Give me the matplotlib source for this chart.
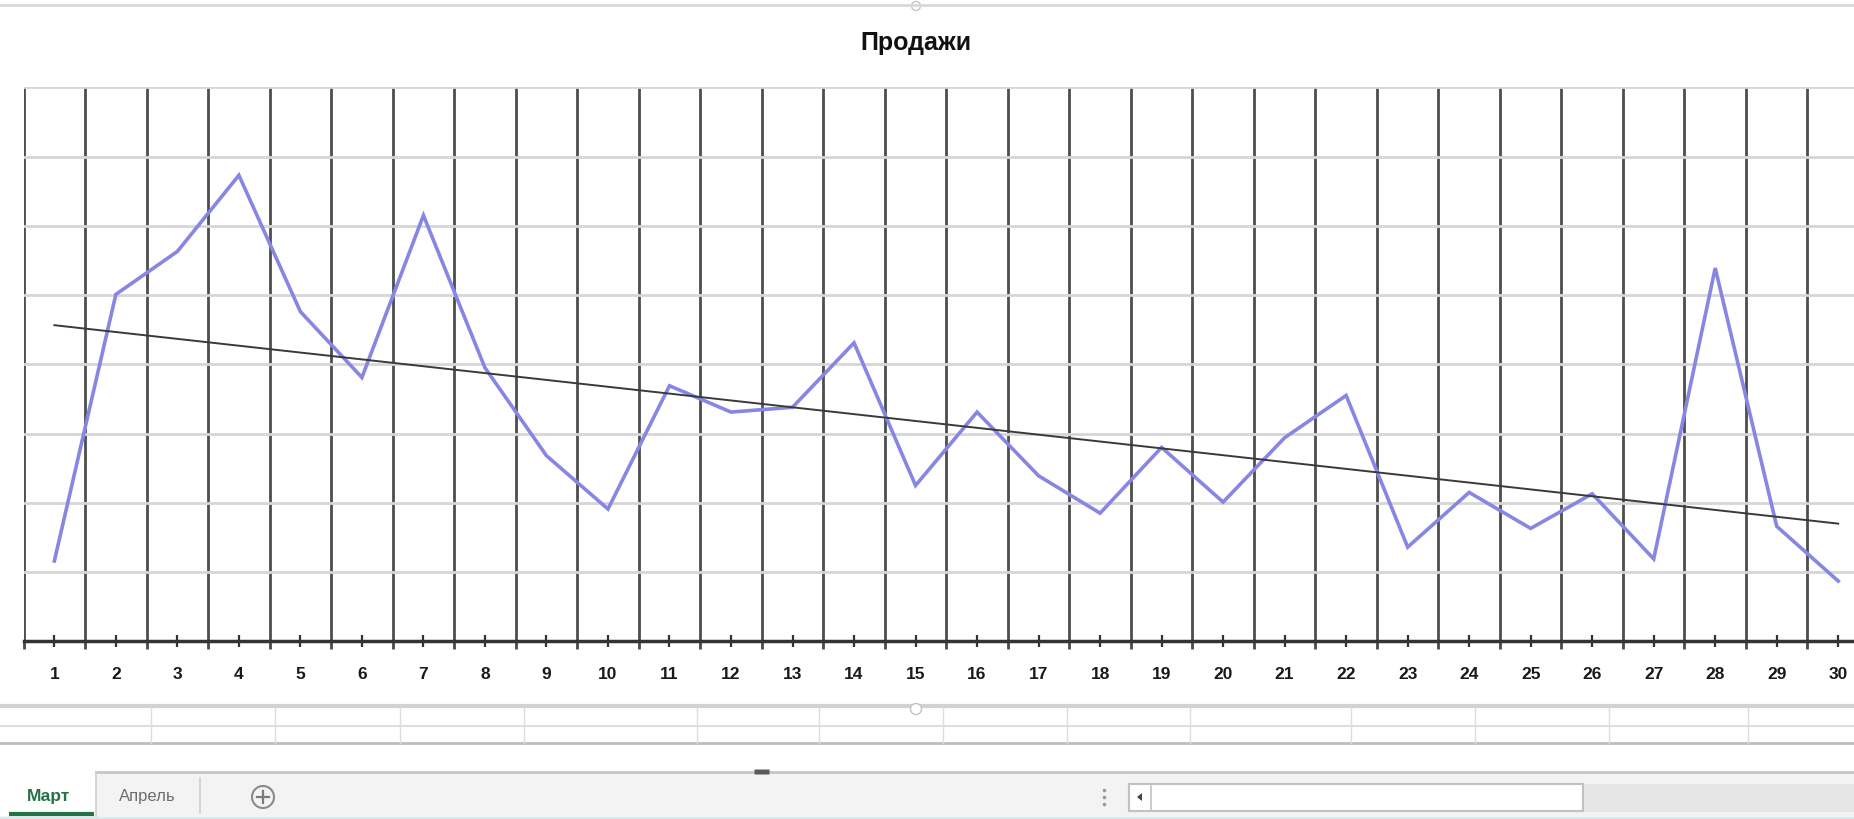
import numpy as np
import matplotlib
matplotlib.use("Agg")
import matplotlib.pyplot as plt
from matplotlib.patches import Rectangle, Circle, Polygon, FancyBboxPatch

plt.rcParams["font.family"] = ["Liberation Sans", "DejaVu Sans"]

# Daily sales for March
days = list(range(1, 31))
sales = [11.6, 50.1, 56.3, 67.3, 47.6, 38.1, 61.5, 39.5, 26.8, 19.1,
         36.9, 33.1, 33.8, 43.1, 22.5, 33.1, 23.9, 18.5, 28.0, 20.1,
         29.4, 35.5, 13.6, 21.5, 16.3, 21.3, 11.9, 53.9, 16.6, 8.7]
day_labels = [str(d) for d in days]
y_grid = list(range(0, 81, 10))
title = "Продажи"
sheet_tabs = ["Март", "Апрель"]

W, H = 1854, 820
fig = plt.figure(figsize=(W / 100, H / 100), dpi=100)
fig.patch.set_facecolor("white")

# ---- spreadsheet chrome drawn in pixel coordinates ----
deco = fig.add_axes([0, 0, 1, 1], zorder=0)
deco.set_xlim(0, W)
deco.set_ylim(H, 0)
deco.axis("off")

# chart frame top edge and resize handle
deco.plot([0, W], [6, 6], color="#d8d8d8", lw=2)
deco.add_patch(Circle((916, 7), 4.5, facecolor="white", edgecolor="#c4c4c4", lw=1))

# chart bottom edge + cell rows below it
deco.plot([0, W], [707, 707], color="#d2d2d2", lw=3)
deco.plot([0, W], [727, 727], color="#dedede", lw=1.5)
deco.plot([0, W], [744, 744], color="#bcbcbc", lw=2)
for cx in [151, 275, 400, 524, 697, 819, 943, 1067, 1190, 1351, 1475, 1609, 1748]:
    deco.plot([cx, cx], [708, 744], color="#dcdcdc", lw=1)
deco.add_patch(Circle((916, 710), 5.5, facecolor="white", edgecolor="#c4c4c4", lw=1, zorder=3))

# sheet tab bar
deco.add_patch(Rectangle((0, 773), W, H - 773, facecolor="#f3f3f3", edgecolor="none"))
deco.add_patch(Rectangle((0, 773), 95, 44, facecolor="white", edgecolor="none"))
deco.plot([96, W], [773, 773], color="#c6c6c6", lw=2)
deco.plot([96, 96], [773, 817], color="#cfcfcf", lw=1.2)
deco.plot([200, 200], [779, 814], color="#cfcfcf", lw=1.2)
deco.plot([9, 94], [815, 815], color="#217346", lw=3, solid_capstyle="butt")
deco.text(49, 797, sheet_tabs[0], ha="center", va="center", fontsize=12.5,
          fontweight="bold", color="#217346")
deco.text(147, 797, sheet_tabs[1], ha="center", va="center", fontsize=12,
          color="#6e6e6e")
deco.add_patch(Circle((263, 798), 11, facecolor="none", edgecolor="#8a8a8a", lw=1.5))
deco.plot([257, 269], [798, 798], color="#7a7a7a", lw=1.6)
deco.plot([263, 263], [792, 804], color="#7a7a7a", lw=1.6)

# split handle
deco.add_patch(FancyBboxPatch((755, 771), 14, 4, boxstyle="round,pad=0.5",
                              facecolor="#5a5a5a", edgecolor="none", zorder=3))

# horizontal scrollbar
deco.scatter([1104, 1104, 1104], [791, 798, 805], s=2.5, color="#9a9a9a", zorder=3)
deco.add_patch(Rectangle((1583, 785), W - 1583, 28, facecolor="#e6e6e6", edgecolor="none"))
deco.add_patch(Rectangle((1129, 785), 454, 27, facecolor="white", edgecolor="#c2c2c2", lw=1.5))
deco.plot([1151, 1151], [786, 811], color="#c2c2c2", lw=1.2)
deco.add_patch(Polygon([[1137, 798], [1142, 794], [1142, 802]], closed=True,
                       facecolor="#444444", edgecolor="none"))
deco.plot([0, W], [819, 819], color="#d6ecec", lw=2)

# ---- the chart itself ----
x0, x1 = 23.6, 1869.0
y_top, y_bot = 88.3, 642.3
ax = fig.add_axes([x0 / W, 1 - y_bot / H, (x1 - x0) / W, (y_bot - y_top) / H], zorder=1)
ax.set_facecolor("none")
ax.set_xlim(0.5, 30.5)
ax.set_ylim(0, 80)

ax.set_yticks(y_grid)
ax.tick_params(axis="y", left=False, labelleft=False)
ax.grid(axis="y", which="major", color="#d6d6d6", lw=2)

ax.set_xticks(days)
ax.set_xticklabels(day_labels)
ax.set_xticks(np.arange(0.5, 31, 1.0), minor=True)
ax.tick_params(axis="x", which="major", direction="inout", length=9, width=1.6,
               color="#333333", labelsize=12.5, pad=13, labelcolor="#1a1a1a")
ax.tick_params(axis="x", which="minor", direction="out", length=6, width=2,
               color="#4a4a4a")
for lbl in ax.get_xticklabels():
    lbl.set_fontweight("bold")
ax.grid(axis="x", which="minor", color="#4d4d4d", lw=2)
ax.grid(axis="x", which="major", visible=False)

for side in ("top", "right", "left"):
    ax.spines[side].set_visible(False)
ax.spines["bottom"].set_color("#333333")
ax.spines["bottom"].set_linewidth(2.5)
ax.set_axisbelow(True)

ax.plot(days, sales, color="#8787e3", lw=2.6, solid_joinstyle="miter", zorder=3)

# linear trend line
k, b = np.polyfit(days, sales, 1)
xd = np.array([days[0], days[-1]])
ax.plot(xd, k * xd + b, color="#3a3a3a", lw=1.4, zorder=4)

fig.text(916 / W, 1 - 43 / H, title, ha="center", va="center",
         fontsize=18, fontweight="bold", color="#111111")

fig.savefig("out.png", dpi=100, facecolor="white")
